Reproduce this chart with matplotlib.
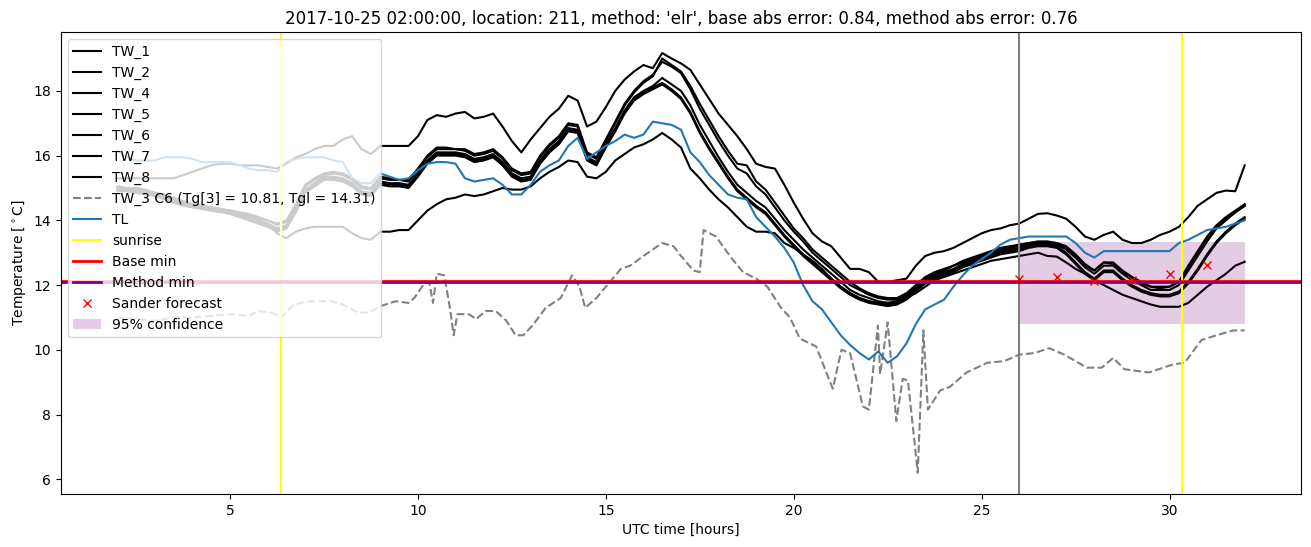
import numpy as np
import matplotlib
matplotlib.use("Agg")
import matplotlib.pyplot as plt

# 15 minute grid, hours since 00 UTC of the day before
hours = np.arange(2.0, 32.01, 0.25)

tw_1 = [
    15.3, 15.3, 15.3, 15.3,
    15.3, 15.3, 15.3, 15.4,
    15.5, 15.6, 15.7, 15.75,
    15.75, 15.7, 15.7, 15.7,
    15.65, 15.6, 15.75, 15.95,
    16.05, 16.2, 16.3, 16.3,
    16.5, 16.6, 16.2, 16.05,
    16.3, 16.3, 16.3, 16.3,
    16.6, 17.1, 17.25, 17.2,
    17.3, 17.35, 17.15, 17.2,
    17.3, 16.9, 16.45, 16.1,
    16.5, 16.85, 17.2, 17.45,
    17.85, 17.7, 16.9, 17.05,
    17.5, 18.0, 18.35, 18.6,
    18.8, 18.7, 19.17, 19.0,
    18.85, 18.65, 18.2, 17.75,
    17.3, 16.95, 16.6, 16.2,
    15.75, 15.65, 15.6, 15.1,
    14.55, 14.05, 13.6, 13.35,
    13.2, 12.85, 12.5, 12.5,
    12.4, 12.1, 12.1, 12.15,
    12.2, 12.6, 12.9, 13.0,
    13.05, 13.15, 13.3, 13.45,
    13.6, 13.7, 13.75, 13.85,
    13.9, 14.05, 14.2, 14.22,
    14.15, 14.05, 13.8, 13.5,
    13.4, 13.55, 13.65, 13.4,
    13.3, 13.3, 13.4, 13.55,
    13.65, 13.8, 14.1, 14.45,
    14.65, 14.85, 14.92, 14.9,
    15.7,
]
tw_2 = [
    15.0, 15.0, 14.95, 14.9,
    14.85, 14.75, 14.65, 14.55,
    14.5, 14.45, 14.4, 14.35,
    14.3, 14.25, 14.15, 14.05,
    14.0, 13.85, 13.95, 14.45,
    15.05, 15.25, 15.4, 15.45,
    15.4, 15.25, 15.0, 14.95,
    15.3, 15.25, 15.25, 15.2,
    15.55, 15.95, 16.2, 16.2,
    16.2, 16.15, 16.0, 16.05,
    16.15, 15.9, 15.55, 15.4,
    15.45, 15.95, 16.3, 16.55,
    16.95, 16.9, 16.05, 15.9,
    16.45, 17.0, 17.55, 17.95,
    18.25, 18.45, 19.0, 18.8,
    18.6, 18.15, 17.6, 17.1,
    16.6, 16.15, 15.75, 15.7,
    15.2, 14.95, 14.55, 14.15,
    13.75, 13.45, 13.1, 12.85,
    12.6, 12.35, 12.1, 11.9,
    11.75, 11.65, 11.6, 11.6,
    11.75, 12.0, 12.25, 12.4,
    12.5, 12.6, 12.75, 12.85,
    12.95, 13.05, 13.15, 13.2,
    13.25, 13.3, 13.35, 13.35,
    13.3, 13.2, 12.95, 12.65,
    12.45, 12.7, 12.7, 12.45,
    12.25, 12.1, 11.95, 11.95,
    11.95, 12.1, 12.6, 13.05,
    13.5, 13.85, 14.1, 14.3,
    14.5,
]
tw_4 = [
    15.05, 15.0, 15.0, 14.95,
    14.85, 14.8, 14.7, 14.6,
    14.5, 14.45, 14.4, 14.35,
    14.3, 14.25, 14.2, 14.1,
    14.0, 13.9, 14.0, 14.5,
    15.1, 15.3, 15.45, 15.5,
    15.45, 15.3, 15.05, 15.0,
    15.35, 15.3, 15.25, 15.25,
    15.6, 16.0, 16.25, 16.25,
    16.2, 16.2, 16.05, 16.1,
    16.2, 15.95, 15.6, 15.45,
    15.5, 16.0, 16.35, 16.6,
    17.0, 16.95, 16.1, 15.95,
    16.5, 17.05, 17.6, 18.0,
    18.3, 18.5, 18.9, 18.75,
    18.55, 18.05, 17.45, 16.95,
    16.45, 16.0, 15.6, 15.45,
    15.05, 14.8, 14.4, 14.0,
    13.65, 13.35, 13.0, 12.75,
    12.5, 12.25, 12.0, 11.85,
    11.7, 11.6, 11.55, 11.55,
    11.7, 11.95, 12.2, 12.35,
    12.45, 12.6, 12.7, 12.8,
    12.9, 13.0, 13.1, 13.15,
    13.2, 13.3, 13.3, 13.3,
    13.3, 13.15, 12.9, 12.6,
    12.45, 12.7, 12.65, 12.4,
    12.2, 12.05, 11.95, 11.9,
    11.95, 12.1, 12.55, 13.0,
    13.45, 13.8, 14.05, 14.25,
    14.45,
]
tw_5 = [
    14.95, 14.95, 14.9, 14.85,
    14.8, 14.7, 14.6, 14.5,
    14.45, 14.4, 14.35, 14.3,
    14.25, 14.15, 14.1, 14.0,
    13.9, 13.75, 13.85, 14.35,
    14.95, 15.15, 15.35, 15.35,
    15.3, 15.15, 14.9, 14.85,
    15.2, 15.15, 15.15, 15.1,
    15.45, 15.85, 16.1, 16.1,
    16.1, 16.05, 15.9, 15.95,
    16.05, 15.8, 15.45, 15.3,
    15.35, 15.85, 16.2, 16.45,
    16.85, 16.8, 15.95, 15.8,
    16.35, 16.85, 17.4, 17.8,
    18.0, 18.15, 18.4, 18.2,
    18.0, 17.55, 16.95, 16.45,
    15.95, 15.5, 15.1, 14.85,
    14.6, 14.4, 14.05, 13.7,
    13.4, 13.1, 12.85, 12.6,
    12.35, 12.1, 11.85, 11.7,
    11.6, 11.5, 11.45, 11.5,
    11.65, 11.9, 12.15, 12.3,
    12.4, 12.5, 12.65, 12.75,
    12.85, 12.95, 13.05, 13.1,
    13.15, 13.25, 13.3, 13.3,
    13.25, 13.1, 12.85, 12.55,
    12.35, 12.6, 12.6, 12.35,
    12.15, 12.0, 11.85, 11.85,
    11.85, 12.0, 12.45, 12.9,
    13.35, 13.75, 14.0, 14.25,
    14.45,
]
tw_6 = [
    14.95, 14.9, 14.9, 14.85,
    14.75, 14.7, 14.6, 14.5,
    14.45, 14.4, 14.35, 14.3,
    14.2, 14.15, 14.05, 13.95,
    13.85, 13.7, 13.8, 14.3,
    14.9, 15.1, 15.3, 15.3,
    15.25, 15.1, 14.85, 14.8,
    15.15, 15.1, 15.1, 15.05,
    15.4, 15.8, 16.05, 16.05,
    16.05, 16.0, 15.85, 15.9,
    16.0, 15.75, 15.4, 15.25,
    15.3, 15.8, 16.15, 16.4,
    16.8, 16.75, 15.9, 15.75,
    16.3, 16.8, 17.35, 17.75,
    17.95, 18.1, 18.25, 18.05,
    17.8, 17.35, 16.75, 16.25,
    15.8, 15.35, 14.95, 14.7,
    14.45, 14.25, 13.9, 13.55,
    13.25, 12.95, 12.7, 12.45,
    12.2, 11.95, 11.75, 11.6,
    11.5, 11.45, 11.4, 11.45,
    11.6, 11.85, 12.1, 12.25,
    12.35, 12.45, 12.6, 12.7,
    12.8, 12.9, 13.0, 13.05,
    13.1, 13.2, 13.25, 13.25,
    13.2, 13.0, 12.7, 12.4,
    12.2, 12.45, 12.45, 12.2,
    12.0, 11.85, 11.75, 11.7,
    11.7, 11.8, 12.1, 12.5,
    12.95, 13.35, 13.65, 13.9,
    14.1,
]
tw_7 = [
    14.9, 14.9, 14.85, 14.8,
    14.75, 14.65, 14.55, 14.45,
    14.4, 14.35, 14.3, 14.25,
    14.2, 14.1, 14.0, 13.9,
    13.8, 13.65, 13.75, 14.25,
    14.85, 15.05, 15.25, 15.25,
    15.2, 15.05, 14.8, 14.75,
    15.1, 15.05, 15.05, 15.0,
    15.35, 15.75, 16.0, 16.0,
    16.0, 15.95, 15.8, 15.85,
    15.95, 15.7, 15.35, 15.2,
    15.25, 15.75, 16.1, 16.35,
    16.75, 16.7, 15.85, 15.7,
    16.25, 16.75, 17.3, 17.7,
    17.9, 18.05, 18.2, 18.0,
    17.75, 17.3, 16.7, 16.2,
    15.75, 15.3, 14.9, 14.65,
    14.4, 14.2, 13.85, 13.5,
    13.2, 12.9, 12.65, 12.4,
    12.15, 11.9, 11.7, 11.55,
    11.45, 11.4, 11.35, 11.4,
    11.55, 11.8, 12.05, 12.2,
    12.3, 12.4, 12.55, 12.65,
    12.75, 12.85, 12.95, 13.0,
    13.05, 13.15, 13.2, 13.2,
    13.15, 12.95, 12.65, 12.35,
    12.15, 12.4, 12.4, 12.15,
    11.95, 11.8, 11.7, 11.65,
    11.65, 11.75, 12.05, 12.45,
    12.9, 13.3, 13.6, 13.85,
    14.05,
]
tw_8 = [
    15.0, 15.0, 14.95, 14.9,
    14.85, 14.75, 14.65, 14.55,
    14.5, 14.45, 14.4, 14.35,
    14.3, 14.2, 14.15, 14.0,
    13.9, 13.6, 13.45, 13.65,
    13.75, 13.8, 13.8, 13.8,
    13.8, 13.6, 13.45, 13.4,
    13.65, 13.65, 13.7, 13.7,
    14.0, 14.3, 14.5, 14.65,
    14.7, 14.8, 14.75, 14.8,
    14.9, 15.0, 14.95, 14.95,
    15.05, 15.3, 15.5, 15.65,
    15.85, 15.8, 15.35, 15.3,
    15.5, 15.85, 16.05, 16.25,
    16.35, 16.5, 16.7, 16.5,
    16.25, 15.6, 15.3, 14.95,
    14.65, 14.4, 14.1, 13.8,
    13.65, 13.65, 13.6, 13.3,
    13.15, 12.95, 12.75, 12.5,
    12.2, 11.95, 11.75, 11.6,
    11.5, 11.45, 11.45, 11.45,
    11.6, 11.75, 11.95, 12.15,
    12.25, 12.35, 12.45, 12.55,
    12.65, 12.75, 12.8, 12.85,
    12.9, 12.95, 13.0, 12.9,
    12.88, 12.7, 12.5, 12.35,
    12.15, 12.0, 11.85, 11.7,
    11.6, 11.5, 11.4, 11.33,
    11.33, 11.33, 11.45, 11.7,
    11.95, 12.15, 12.35, 12.6,
    12.72,
]
tl = [
    16.15, 15.95, 15.85, 15.85,
    15.85, 15.95, 15.95, 15.95,
    15.9, 15.8, 15.8, 15.8,
    15.8, 15.7, 15.6, 15.55,
    15.55, 15.5, 15.8, 15.9,
    15.95, 15.95, 15.95, 15.85,
    15.8, 15.3, 15.15, 15.15,
    15.45, 15.35, 15.25, 15.3,
    15.55, 15.75, 15.8, 15.8,
    15.75, 15.3, 15.2, 15.25,
    15.3, 15.1, 14.8, 14.8,
    15.1, 15.5, 15.7, 15.85,
    16.3, 16.55, 15.9, 16.1,
    16.3, 16.45, 16.65, 16.55,
    16.65, 17.05, 17.0, 16.95,
    16.8, 16.1, 15.8, 15.4,
    15.1, 14.8, 14.7, 14.65,
    14.1, 13.8, 13.5, 13.15,
    12.7, 12.0, 11.5, 11.25,
    10.85, 10.45, 10.15, 9.9,
    9.7, 9.95, 9.6, 9.8,
    10.2, 10.8, 11.25, 11.4,
    11.55, 11.95, 12.3, 12.6,
    12.8, 13.0, 13.25, 13.4,
    13.45, 13.5, 13.5, 13.5,
    13.5, 13.5, 13.3, 13.0,
    12.85, 13.05, 13.05, 13.05,
    13.05, 13.05, 13.05, 13.05,
    13.05, 13.3, 13.4, 13.55,
    13.7, 13.75, 13.8, 13.9,
    14.0,
]

# TW_3 is irregular, keep its own time stamps
tw_3_hours = [
    2.0, 2.5, 3.0, 3.5, 4.0, 4.5, 5.0, 5.5, 5.75, 6.1, 6.35, 6.7, 7.1, 7.7,
    8.0, 8.4, 8.7, 9.0, 9.4, 9.75, 9.9, 10.14, 10.3, 10.4, 10.5, 10.7, 10.85,
    10.95, 11.05, 11.35, 11.55, 11.8, 12.07, 12.35, 12.6, 12.8, 13.05, 13.4,
    13.8, 14.1, 14.3, 14.45, 14.75, 15.0, 15.4, 15.65, 16.0, 16.5, 16.8, 17.0,
    17.33, 17.5, 17.6, 17.93, 18.3, 18.65, 19.0, 19.3, 19.66, 19.9, 20.16,
    20.6, 20.8, 21.04, 21.27, 21.5, 21.84, 22.0, 22.24, 22.3, 22.5, 22.73,
    22.9, 23.04, 23.3, 23.45, 23.57, 23.9, 24.15, 24.6, 25.15, 25.6, 26.0,
    26.4, 26.8, 27.2, 27.8, 28.2, 28.5, 28.8, 29.45, 30.1, 30.4, 30.85,
    31.25, 31.7, 32.0,
]
tw_3 = [
    11.0, 10.95, 10.9, 11.0, 11.0, 11.05, 11.1, 11.05, 11.2, 11.15, 11.0, 11.4,
    11.5, 11.5, 11.4, 11.15, 11.15, 11.35, 11.5, 11.45, 11.6, 12.0, 12.1, 11.45,
    12.35, 12.3, 11.3, 10.45, 11.1, 11.1, 10.95, 11.2, 11.2, 10.9, 10.45, 10.45,
    10.75, 11.3, 11.6, 12.3, 11.95, 11.3, 11.6, 11.95, 12.5, 12.6, 12.9, 13.3,
    13.2, 12.9, 12.45, 12.4, 13.7, 13.5, 12.9, 12.4, 12.2, 11.95, 11.3, 11.0,
    10.35, 10.1, 9.5, 8.8, 10.0, 9.9, 8.25, 8.15, 10.75, 9.25, 10.85, 7.8,
    9.1, 9.05, 6.2, 10.6, 8.15, 8.75, 8.85, 9.3, 9.6, 9.65, 9.85, 9.9, 10.05,
    9.85, 9.45, 9.45, 9.75, 9.4, 9.3, 9.55, 9.6, 10.3, 10.45, 10.6, 10.6,
]

sander_hours = [26, 27, 28, 29, 30, 31]
sander_forecast = [12.19, 12.26, 12.13, 12.15, 12.33, 12.62]

conf_hours = [26, 32]
conf_lower = [10.79, 10.79]
conf_upper = [13.34, 13.34]

sunrise_hours = [6.35, 30.34]
forecast_hour = 26
base_min = 12.14
method_min = 12.08

fig = plt.figure(figsize=(13.11, 5.47), dpi=100)
ax = fig.add_subplot(111)
fig.subplots_adjust(left=0.0465, right=0.9924, top=0.9415, bottom=0.0969)

# road sensor traces
for label, values in [("TW_1", tw_1), ("TW_2", tw_2), ("TW_4", tw_4), ("TW_5", tw_5),
                      ("TW_6", tw_6), ("TW_7", tw_7), ("TW_8", tw_8)]:
    ax.plot(hours, values, color="k", label=label)
ax.plot(tw_3_hours, tw_3, "--", color="grey", label="TW_3 C6 (Tg[3] = 10.81, Tgl = 14.31)")
ax.plot(hours, tl, color="tab:blue", label="TL")

ax.axvline(sunrise_hours[0], color="yellow", label="sunrise")
ax.axvline(sunrise_hours[1], color="yellow")
ax.axvline(forecast_hour, color="grey")
ax.axhline(base_min, color="red", lw=2, label="Base min")
ax.axhline(method_min, color="purple", lw=2, label="Method min")
ax.plot(sander_hours, sander_forecast, "x", color="red", label="Sander forecast")
ax.fill_between(conf_hours, conf_lower, conf_upper, color="purple", alpha=0.2,
                lw=0, label="95% confidence")

ax.set_xlim(0.5, 33.5)
ax.set_ylim(5.545, 19.82)
ax.set_xlabel("UTC time [hours]")
ax.set_ylabel(r"Temperature [$^\circ$C]")
ax.set_title("2017-10-25 02:00:00, location: 211, method: 'elr', "
             "base abs error: 0.84, method abs error: 0.76")
ax.legend(loc="upper left")

fig.savefig("out.png", dpi=100)
